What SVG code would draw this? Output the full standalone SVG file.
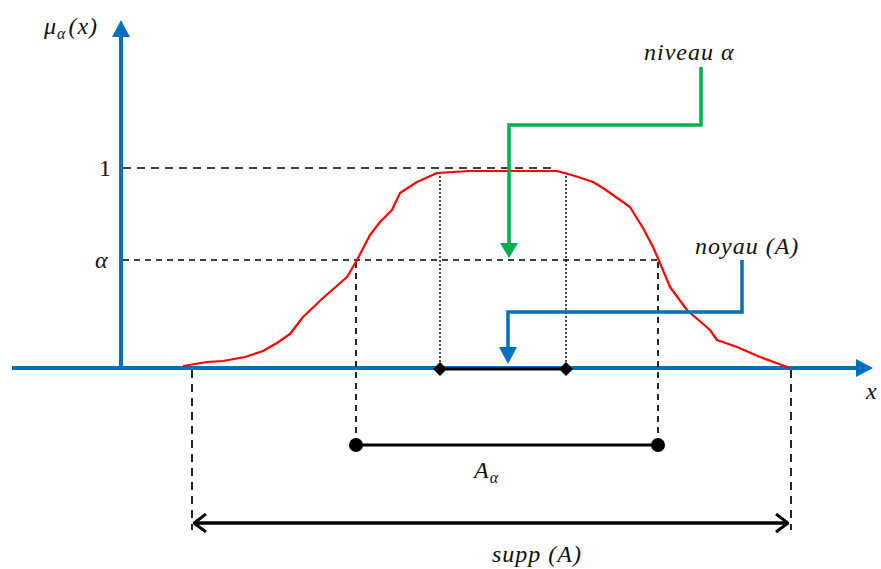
<svg xmlns="http://www.w3.org/2000/svg" width="881" height="569" viewBox="0 0 881 569">
<style>
.lbl{font-family:"Liberation Serif","DejaVu Serif",serif;font-style:italic;font-size:24px;fill:#111;letter-spacing:1px}
.num{font-family:"Liberation Serif","DejaVu Serif",serif;font-size:24px;fill:#111}
.axis{stroke:#0070C0;stroke-width:4;fill:none}
.dash{stroke:#000;stroke-width:1.7;stroke-dasharray:8,6;fill:none}
.dash2{stroke:#000;stroke-width:1.7;stroke-dasharray:6,5;fill:none}
.dot{stroke:#000;stroke-width:1.4;stroke-dasharray:2,2;fill:none}
.seg{stroke:#000;stroke-width:3;fill:none}
</style>
<defs>
<marker id="openHead" markerWidth="14" markerHeight="20" refX="13" refY="10" orient="auto-start-reverse" markerUnits="userSpaceOnUse" viewBox="0 0 14 20"><path d="M1,1 L13,10 L1,19" fill="none" stroke="#000" stroke-width="3"/></marker>
</defs>
<rect width="881" height="569" fill="#fff"/>
<g id="axes">
<line class="axis" x1="12" y1="368" x2="858" y2="368"/>
<polygon points="856,359 873,368 856,377" fill="#0070C0"/>
<line class="axis" x1="121" y1="370" x2="121" y2="36"/>
<polygon points="112,37 121,20 130,37" fill="#0070C0"/>
<text class="lbl" x="44" y="34">μ<tspan font-size="16" dy="5">α</tspan><tspan dy="-5" dx="2">(x)</tspan></text>
<text class="lbl" x="866" y="399">x</text>
<text class="num" x="99" y="176">1</text>
<text class="lbl" x="95" y="268">α</text>
</g>
<g id="guides">
<line class="dash" x1="123" y1="168" x2="557" y2="168"/>
<line class="dash2" x1="123" y1="260" x2="658" y2="260"/>
<line class="dot" x1="440" y1="172" x2="440" y2="366"/>
<line class="dot" x1="566" y1="172" x2="566" y2="366"/>
<line class="dash2" x1="356" y1="262" x2="356" y2="444"/>
<line class="dash2" x1="658" y1="262" x2="658" y2="444"/>
<line class="dash" x1="192" y1="370" x2="192" y2="530"/>
<line class="dash" x1="791" y1="370" x2="791" y2="530"/>
</g>
<g id="curve">
<path d="M183,366 L207,362 L223,361 L245,357 L263,351 L277,343 L290,334 L303,317 L323,298 L347,277 L357,260 L370,235 L380,222 L392,210 L400,193 L417,182 L437,173 L470,171 L557,171 L575,176 L593,182 L603,188 L630,207 L643,228 L653,247 L660,263 L670,287 L687,310 L710,330 L717,340 L737,347 L760,357 L790,368" fill="none" stroke="#FF0000" stroke-width="2.2" stroke-linejoin="round"/>
</g>
<g id="noyau-segment">
<line class="seg" x1="440" y1="369" x2="566" y2="369"/>
<polygon points="440,362 447,369 440,376 433,369" fill="#000"/>
<polygon points="566,362 573,369 566,376 559,369" fill="#000"/>
</g>
<g id="alpha-cut">
<line class="seg" x1="356" y1="445" x2="658" y2="445"/>
<circle cx="356" cy="445" r="7" fill="#000"/>
<circle cx="658" cy="445" r="7" fill="#000"/>
<text class="lbl" x="474" y="478">A<tspan font-size="16" dy="5">α</tspan></text>
</g>
<g id="support">
<line x1="194" y1="523" x2="788" y2="523" stroke="#000" stroke-width="3.5" marker-start="url(#openHead)" marker-end="url(#openHead)"/>
<text class="lbl" x="492" y="562">supp (A)</text>
</g>
<g id="connectors">
<g id="niveau">
<path d="M701,67 V125 H509 V246" fill="none" stroke="#00B050" stroke-width="3.5"/>
<polygon points="500,243 509,258 518,243" fill="#00B050"/>
<text class="lbl" x="644" y="60" letter-spacing="2px">niveau  α</text>
</g>
<g id="noyau">
<path d="M742,260 V312 H508 V350" fill="none" stroke="#0070C0" stroke-width="3.5"/>
<polygon points="499,347 508,364 517,347" fill="#0070C0"/>
<text class="lbl" x="695" y="254" letter-spacing="1.5px">noyau (A)</text>
</g>
</g>
</svg>
